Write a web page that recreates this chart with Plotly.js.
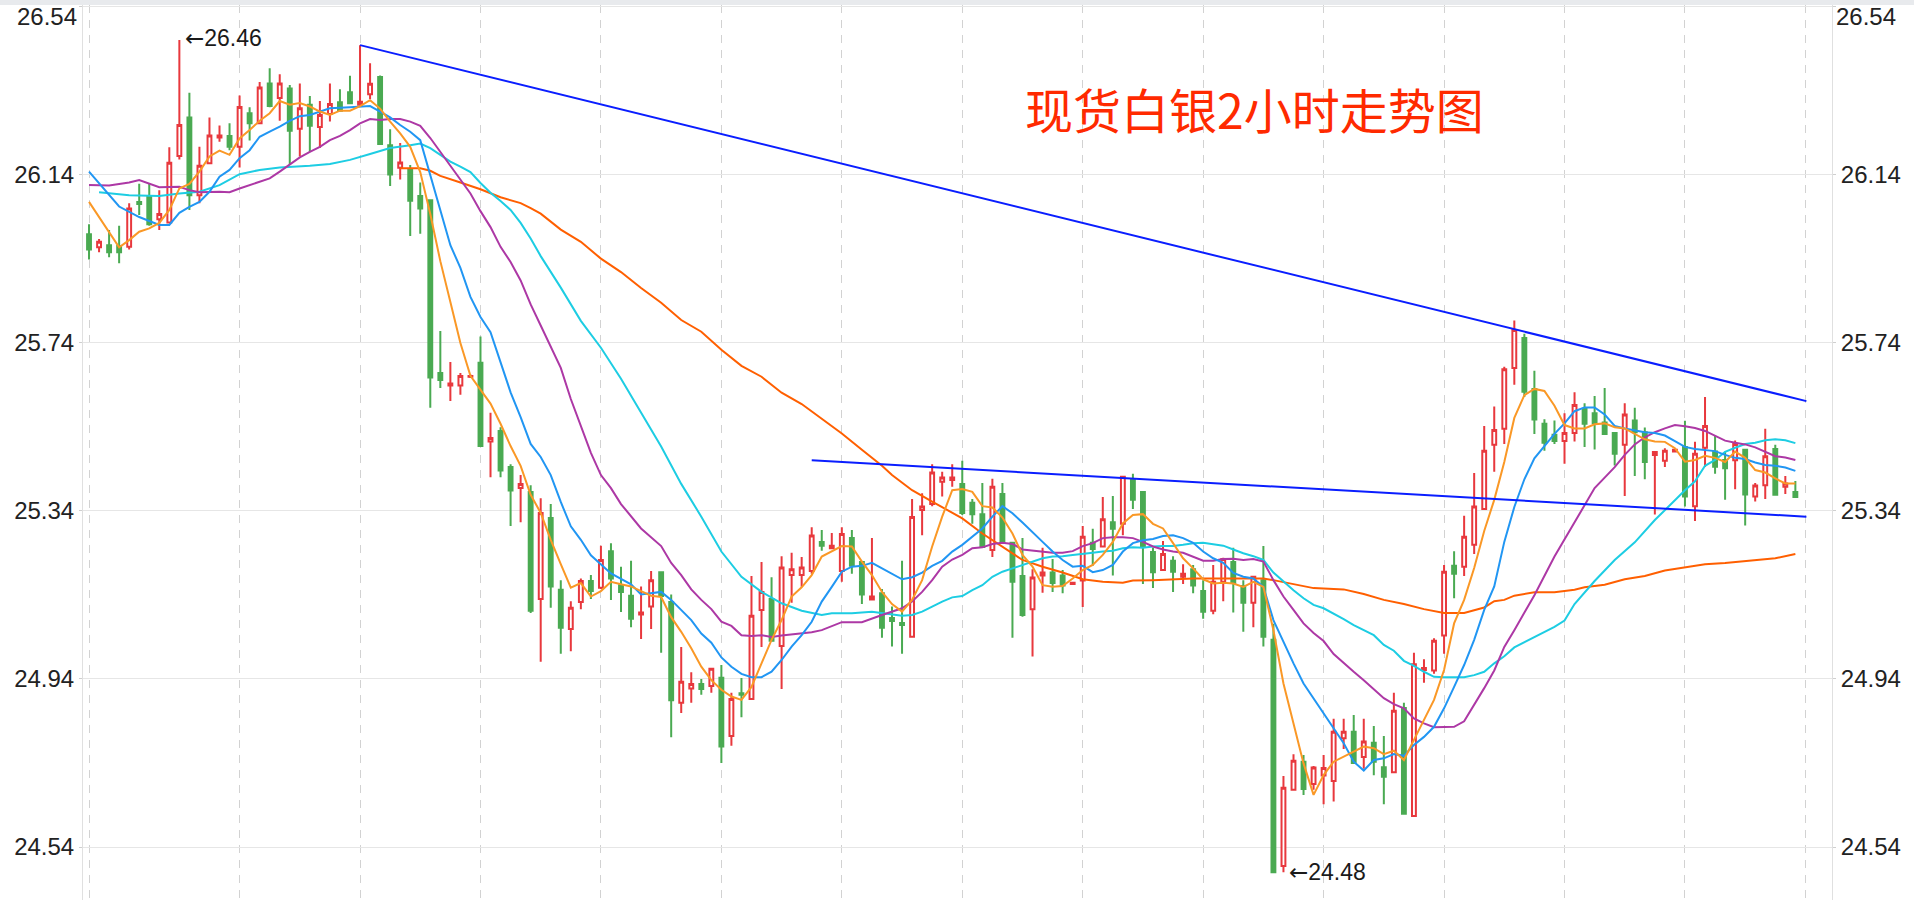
<!DOCTYPE html>
<html>
<head>
<meta charset="utf-8">
<script src="https://cdn.plot.ly/plotly-3.0.1.min.js"></script>
<style>
html,body{margin:0;padding:0;background:#fff;}
#chart{width:1914px;height:900px;}
</style>
</head>
<body>
<div id="chart"></div>
<script>
// ---- candle data (2-hour bars, index 0..170) ----
const openP = [25.998,25.967,25.972,25.970,25.968,26.075,26.087,26.034,26.026,26.184,26.276,26.091,26.167,26.228,26.232,26.206,26.286,26.262,26.357,26.322,26.345,26.249,26.306,26.253,26.284,26.312,26.336,26.306,26.331,26.372,
26.210,26.156,26.151,26.089,26.079,25.668,25.638,25.638,25.659,25.692,25.505,25.530,25.444,25.394,25.385,25.130,25.323,25.152,25.059,25.123,25.173,25.157,25.244,25.163,25.138,25.093,25.112,25.194,25.123,24.883,
24.917,24.928,24.923,24.943,24.804,24.906,24.892,25.104,25.130,25.018,25.187,25.187,25.197,25.266,25.251,25.197,25.275,25.218,25.129,25.144,25.085,25.073,25.040,25.342,25.356,25.409,25.413,25.404,25.359,25.332,
25.247,25.380,25.264,25.185,25.106,25.186,25.193,25.186,25.166,25.174,25.264,25.255,25.313,25.309,25.413,25.385,25.242,25.199,25.221,25.183,25.201,25.149,25.102,25.171,25.218,25.161,25.121,25.175,25.033,24.495,
24.676,24.743,24.690,24.710,24.697,24.799,24.814,24.754,24.788,24.730,24.718,24.871,24.614,24.961,24.960,25.043,25.209,25.207,25.259,25.344,25.497,25.535,25.680,25.751,25.630,25.547,25.521,25.506,25.525,25.583,
25.572,25.550,25.525,25.497,25.555,25.527,25.473,25.459,25.481,25.492,25.351,25.490,25.481,25.461,25.460,25.485,25.374,25.401,25.487,25.397,25.385];
const highP = [26.022,25.987,26.008,26.018,26.072,26.118,26.118,26.103,26.205,26.460,26.335,26.206,26.276,26.257,26.262,26.328,26.300,26.360,26.393,26.379,26.353,26.357,26.327,26.315,26.357,26.343,26.375,26.448,26.405,26.376,
26.248,26.215,26.163,26.121,26.080,25.768,25.694,25.668,25.664,25.755,25.573,25.539,25.451,25.425,25.401,25.370,25.356,25.175,25.125,25.179,25.187,25.257,25.263,25.207,25.221,25.160,25.197,25.196,25.141,25.016,
24.956,24.940,24.966,24.973,24.907,24.942,25.185,25.218,25.182,25.232,25.240,25.230,25.301,25.294,25.287,25.301,25.294,25.220,25.275,25.154,25.112,25.221,25.368,25.382,25.451,25.433,25.451,25.459,25.368,25.406,
25.416,25.406,25.266,25.275,25.201,25.252,25.225,25.199,25.171,25.304,25.297,25.373,25.375,25.423,25.428,25.387,25.252,25.268,25.232,25.213,25.211,25.175,25.211,25.228,25.252,25.175,25.185,25.256,25.071,24.709,
24.761,24.759,24.733,24.759,24.845,24.845,24.854,24.845,24.828,24.804,24.907,24.883,25.002,24.987,25.037,25.211,25.244,25.328,25.430,25.542,25.588,25.683,25.793,25.761,25.673,25.558,25.555,25.572,25.622,25.596,
25.613,25.632,25.527,25.596,25.585,25.538,25.481,25.489,25.487,25.554,25.504,25.611,25.518,25.481,25.507,25.487,25.406,25.535,25.497,25.423,25.411];
const lowP = [25.938,25.955,25.943,25.929,25.962,26.044,26.018,26.008,26.024,26.176,26.056,26.072,26.165,26.218,26.198,26.157,26.221,26.260,26.300,26.268,26.164,26.183,26.194,26.203,26.266,26.290,26.308,26.303,26.320,26.211,
26.113,26.128,25.994,25.999,25.585,25.632,25.601,25.616,25.656,25.492,25.420,25.420,25.304,25.313,25.097,24.981,25.109,25.000,25.006,25.106,25.130,25.154,25.128,25.099,25.063,25.035,25.059,25.002,24.801,24.859,
24.883,24.902,24.907,24.740,24.781,24.849,24.890,25.016,25.029,24.916,25.121,25.159,25.190,25.245,25.250,25.171,25.190,25.118,25.128,25.038,25.017,25.000,25.038,25.282,25.351,25.374,25.397,25.330,25.309,25.252,
25.230,25.264,25.038,25.088,24.993,25.145,25.147,25.144,25.164,25.111,25.209,25.254,25.186,25.282,25.344,25.166,25.156,25.197,25.147,25.166,25.144,25.083,25.094,25.125,25.098,25.052,25.063,25.017,24.480,24.480,
24.674,24.664,24.676,24.642,24.648,24.773,24.738,24.726,24.711,24.642,24.716,24.617,24.612,24.931,24.952,25.000,25.132,25.185,25.237,25.342,25.433,25.499,25.640,25.611,25.523,25.483,25.499,25.452,25.505,25.492,
25.486,25.521,25.448,25.375,25.423,25.415,25.331,25.444,25.479,25.350,25.316,25.444,25.428,25.366,25.391,25.305,25.362,25.368,25.376,25.380,25.372];
const closeP = [25.962,25.980,25.955,25.955,26.059,26.070,26.022,26.046,26.168,26.258,26.091,26.161,26.233,26.233,26.206,26.301,26.262,26.347,26.303,26.357,26.244,26.298,26.256,26.282,26.308,26.292,26.310,26.313,26.356,26.213,
26.140,26.169,26.078,26.059,25.657,25.651,25.643,25.661,25.661,25.494,25.513,25.436,25.388,25.404,25.102,25.335,25.160,25.062,25.109,25.173,25.149,25.223,25.179,25.147,25.083,25.098,25.175,25.137,24.889,24.933,
24.928,24.916,24.964,24.779,24.892,24.902,25.090,25.147,25.031,25.205,25.201,25.205,25.281,25.257,25.257,25.285,25.209,25.141,25.136,25.062,25.078,25.068,25.325,25.350,25.431,25.419,25.419,25.335,25.332,25.254,
25.397,25.266,25.171,25.092,25.181,25.193,25.168,25.162,25.169,25.278,25.249,25.320,25.297,25.421,25.366,25.255,25.194,25.237,25.195,25.190,25.162,25.100,25.171,25.225,25.168,25.121,25.183,25.040,24.480,24.681,
24.745,24.678,24.729,24.728,24.814,24.814,24.740,24.791,24.743,24.707,24.864,24.619,24.975,24.966,25.031,25.195,25.190,25.278,25.350,25.483,25.532,25.677,25.770,25.623,25.557,25.502,25.506,25.525,25.592,25.547,
25.549,25.523,25.476,25.569,25.527,25.456,25.480,25.483,25.485,25.374,25.476,25.542,25.445,25.441,25.499,25.379,25.400,25.470,25.378,25.405,25.373];

// ---- moving averages (bar index, value) ----
const ma5X = [0,3,4,5,6,7,8,9,10,11,12,13,14,15,16,17,18,19,20,21,22,23,24,25,26,27,28,29,30,31,32,33,34,35,36,37,38,39,40,41,42,43,44,45,46,47,48,49,50,51,52,53,54,55,56,57,58,59,60,61,62,63,64,65,66,67,68,69,70,71,72,73,74,75,76,77,78,79,80,81,82,83,84,85,86,87,88,89,90,91,92,93,94,95,96,97,98,99,100,101,102,103,104,105,106,107,108,109,110,111,112,113,114,115,116,117,118,119,120,121,122,123,124,125,126,127,128,129,130,131,132,133,134,135,136,137,138,139,140,141,142,143,144,145,146,147,148,149,150,151,152,153,154,155,156,157,158,159,160,161,162,163,164,165,166,167,168,169,170];
const ma5Y = [26.075,25.967,25.984,26.004,26.012,26.025,26.056,26.107,26.118,26.147,26.183,26.197,26.187,26.226,26.246,26.268,26.286,26.315,26.306,26.310,26.302,26.290,26.282,26.292,26.292,26.303,26.317,26.297,26.266,26.238,26.206,26.146,26.046,25.934,25.837,25.739,25.661,25.629,25.595,25.547,25.494,25.447,25.378,25.335,25.271,25.213,25.157,25.168,25.136,25.149,25.171,25.165,25.160,25.149,25.138,25.135,25.087,25.052,25.013,24.969,24.937,24.914,24.898,24.890,24.921,24.977,25.033,25.080,25.136,25.158,25.187,25.231,25.243,25.256,25.255,25.219,25.187,25.147,25.118,25.100,25.128,25.175,25.255,25.326,25.389,25.392,25.385,25.351,25.348,25.324,25.286,25.235,25.207,25.163,25.159,25.161,25.179,25.199,25.211,25.235,25.266,25.310,25.330,25.332,25.309,25.298,25.263,25.227,25.203,25.177,25.167,25.169,25.167,25.159,25.171,25.159,25.056,24.929,24.834,24.739,24.664,24.711,24.743,24.755,24.767,24.779,24.775,24.761,24.769,24.747,24.795,24.842,24.890,24.961,25.072,25.128,25.204,25.292,25.366,25.456,25.561,25.615,25.630,25.625,25.590,25.544,25.536,25.536,25.546,25.548,25.539,25.536,25.523,25.510,25.505,25.504,25.489,25.457,25.461,25.471,25.466,25.456,25.481,25.466,25.437,25.431,25.417,25.405,25.405];

const ma10X = [0,3,5,7,8,9,10,11,12,13,14,15,16,17,18,19,20,21,22,24,26,28,29,30,31,32,33,34,35,36,37,38,39,40,42,43,44,45,46,47,48,49,50,52,54,55,57,58,60,61,62,63,64,65,66,67,68,69,70,71,72,73,74,75,76,77,78,79,80,81,82,83,84,85,86,87,89,90,91,92,93,94,95,96,97,98,99,100,101,102,103,104,105,106,107,108,109,110,111,112,113,114,115,116,117,118,119,120,121,122,123,124,125,126,127,128,129,130,131,132,133,134,135,136,137,138,139,140,141,142,143,144,145,146,147,148,149,150,151,152,153,154,155,156,157,158,159,160,161,162,163,164,165,166,167,168,169,170];
const ma10Y = [26.147,26.064,26.039,26.020,26.020,26.049,26.063,26.075,26.099,26.135,26.151,26.179,26.198,26.230,26.242,26.254,26.268,26.279,26.282,26.298,26.300,26.303,26.290,26.276,26.258,26.242,26.222,26.139,26.060,25.972,25.918,25.849,25.801,25.765,25.622,25.563,25.499,25.468,25.425,25.361,25.303,25.271,25.234,25.191,25.165,25.141,25.147,25.128,25.080,25.048,25.026,24.991,24.969,24.952,24.944,24.944,24.957,24.985,25.017,25.044,25.076,25.124,25.159,25.195,25.207,25.209,25.216,25.203,25.190,25.177,25.182,25.193,25.209,25.221,25.243,25.259,25.298,25.326,25.351,25.334,25.312,25.288,25.266,25.243,25.223,25.207,25.209,25.194,25.199,25.211,25.243,25.263,25.270,25.273,25.280,25.282,25.275,25.264,25.243,25.227,25.216,25.192,25.183,25.179,25.159,25.080,25.028,24.977,24.929,24.894,24.858,24.822,24.787,24.743,24.722,24.747,24.751,24.761,24.757,24.783,24.802,24.826,24.870,24.921,24.973,25.033,25.104,25.160,25.266,25.349,25.415,25.465,25.494,25.523,25.548,25.577,25.586,25.586,25.569,25.542,25.536,25.532,25.527,25.525,25.519,25.506,25.492,25.487,25.485,25.482,25.473,25.466,25.463,25.455,25.449,25.447,25.443,25.435];

const ma20X = [0,2,4,5,7,9,10,11,13,14,15,17,18,19,20,21,22,23,24,25,26,27,28,29,30,31,32,33,34,35,36,37,38,39,40,41,42,43,44,45,47,48,49,50,51,52,53,55,57,58,59,60,61,62,63,64,65,66,67,68,69,70,72,73,74,75,77,78,79,81,82,83,84,85,86,87,88,89,90,91,92,93,94,95,96,97,98,99,100,101,102,103,104,105,106,107,108,109,110,111,112,113,114,115,116,117,118,119,120,121,122,123,124,125,126,127,128,129,130,131,132,133,134,135,136,137,138,139,140,141,142,144,146,148,150,151,152,153,154,155,156,157,158,159,160,161,162,163,164,165,166,167,168,169,170];
const ma20Y = [26.115,26.114,26.121,26.127,26.110,26.111,26.103,26.098,26.099,26.098,26.107,26.123,26.131,26.147,26.163,26.181,26.194,26.206,26.222,26.232,26.246,26.262,26.272,26.270,26.272,26.272,26.266,26.256,26.227,26.194,26.162,26.131,26.095,26.053,26.015,25.968,25.932,25.888,25.831,25.781,25.680,25.606,25.542,25.478,25.425,25.394,25.356,25.298,25.256,25.216,25.187,25.153,25.128,25.106,25.076,25.066,25.044,25.042,25.044,25.040,25.043,25.046,25.051,25.056,25.066,25.075,25.075,25.084,25.092,25.108,25.124,25.147,25.175,25.207,25.224,25.235,25.251,25.253,25.261,25.264,25.261,25.248,25.245,25.243,25.240,25.240,25.244,25.256,25.263,25.275,25.277,25.277,25.275,25.266,25.255,25.248,25.243,25.240,25.231,25.221,25.221,25.225,25.226,25.223,25.225,25.219,25.175,25.136,25.104,25.072,25.049,25.030,24.999,24.977,24.957,24.937,24.915,24.894,24.880,24.870,24.846,24.834,24.825,24.826,24.826,24.839,24.878,24.918,24.960,25.016,25.056,25.139,25.231,25.314,25.394,25.419,25.444,25.473,25.498,25.515,25.527,25.536,25.544,25.541,25.537,25.530,25.518,25.507,25.502,25.498,25.491,25.481,25.470,25.467,25.461];

const ma30X = [1,4,7,9,11,13,15,17,19,21,22,24,26,28,30,32,33,34,35,36,37,38,39,40,41,42,43,44,45,47,49,51,53,55,57,59,60,61,63,65,67,69,71,73,74,76,78,80,81,82,83,84,85,86,87,88,89,90,91,92,93,94,95,96,97,98,99,100,101,102,103,104,105,106,107,108,109,110,111,112,113,114,115,116,117,118,119,120,121,122,123,124,125,126,127,128,129,130,131,132,133,134,135,137,138,139,140,141,142,144,146,147,148,150,152,154,156,158,159,160,161,162,163,164,165,166,167,168,169,170];
const ma30Y = [26.098,26.091,26.089,26.095,26.099,26.115,26.141,26.151,26.157,26.159,26.161,26.165,26.175,26.189,26.203,26.210,26.214,26.203,26.187,26.171,26.159,26.146,26.120,26.097,26.077,26.056,26.025,25.988,25.946,25.871,25.792,25.728,25.654,25.575,25.493,25.404,25.366,25.326,25.243,25.183,25.147,25.120,25.102,25.092,25.096,25.096,25.100,25.094,25.090,25.092,25.100,25.112,25.124,25.134,25.137,25.151,25.163,25.183,25.195,25.203,25.211,25.219,25.227,25.231,25.232,25.235,25.237,25.240,25.243,25.245,25.251,25.253,25.252,25.255,25.256,25.256,25.259,25.263,25.264,25.261,25.257,25.248,25.239,25.232,25.223,25.193,25.171,25.151,25.132,25.116,25.108,25.096,25.082,25.068,25.056,25.044,25.021,25.007,24.983,24.971,24.957,24.945,24.944,24.944,24.949,24.957,24.977,24.994,25.015,25.039,25.064,25.079,25.118,25.173,25.223,25.265,25.318,25.365,25.389,25.410,25.447,25.461,25.480,25.490,25.499,25.502,25.508,25.510,25.508,25.501];

const ma60X = [31,33,34,35,37,39,41,43,44,45,47,49,51,53,55,57,59,61,63,65,67,69,71,73,75,77,79,80,82,84,85,86,87,89,91,93,95,97,99,101,103,104,106,108,110,114,117,118,120,122,125,127,129,131,133,135,137,139,140,141,142,144,146,148,149,151,153,155,157,159,161,163,165,168,170];
const ma60Y = [26.155,26.155,26.149,26.137,26.121,26.105,26.086,26.072,26.060,26.047,26.009,25.980,25.940,25.908,25.870,25.835,25.794,25.766,25.723,25.685,25.659,25.621,25.594,25.560,25.524,25.485,25.447,25.425,25.389,25.362,25.348,25.334,25.322,25.286,25.255,25.223,25.207,25.193,25.177,25.171,25.169,25.174,25.175,25.177,25.179,25.179,25.179,25.175,25.166,25.156,25.153,25.142,25.128,25.118,25.106,25.097,25.097,25.110,25.125,25.128,25.138,25.146,25.146,25.152,25.158,25.164,25.177,25.185,25.198,25.206,25.213,25.216,25.221,25.227,25.237];

// ---- trend lines (bar index, price) ----
const trendUpperX = [27, 171.1];
const trendUpperY = [26.448, 25.601];
const trendLowerX = [72, 171.1];
const trendLowerY = [25.460, 25.326];

// ---- labels ----
const titleText = '现货白银2小时走势图';
const arrowGlyph = '←';
const highMark = {i: 9, v: 26.464, text: '26.46'};
const lowMark = {i: 119, v: 24.48, text: '24.48'};
const tickVals = [24.54, 24.94, 25.34, 25.74, 26.14, 26.54];
const tickText = ['24.54', '24.94', '25.34', '25.74', '26.14', ''];
const topTickLabel = '26.54';
const dayLines = [0,15,27,39,51,63,75,87,99,111,123,135,147,159,171];

const idx = openP.map((_, k) => k);

const W = 1914, H = 900, ML = 83, MR = 82, MT = 5, MB = 0;
const plotW = W - ML - MR, plotH = H - MT - MB;
const yRange = [24.4139, 26.5435];
const xRange = [-0.6, 173.65];

const tickFont = {family: '"Liberation Sans", Arial, Helvetica, sans-serif', size: 24, color: '#222222'};

function ma(x, y, color) {
  return {type: 'scatter', mode: 'lines', x: x, y: y, line: {color: color, width: 2}, hoverinfo: 'skip', showlegend: false};
}
function markText(t) {
  return '<span style="font-family:\'DejaVu Sans\'">' + arrowGlyph + '</span>' + t;
}

const traces = [
  {
    type: 'candlestick', x: idx, open: openP, high: highP, low: lowP, close: closeP,
    increasing: {line: {color: '#e8383d', width: 2}, fillcolor: '#ffffff'},
    decreasing: {line: {color: '#4aaa52', width: 2}, fillcolor: '#4aaa52'},
    whiskerwidth: 0, hoverinfo: 'skip', showlegend: false
  },
  ma(ma60X, ma60Y, '#ff5f00'),
  ma(ma30X, ma30Y, '#1dcde3'),
  ma(ma20X, ma20Y, '#ad38a5'),
  ma(ma10X, ma10Y, '#2196f3'),
  ma(ma5X, ma5Y, '#fa9826'),
  {type: 'scatter', mode: 'lines', x: trendUpperX, y: trendUpperY, yaxis: 'y2', line: {color: '#0a1eff', width: 2}, hoverinfo: 'skip', showlegend: false},
  {type: 'scatter', mode: 'lines', x: trendLowerX, y: trendLowerY, yaxis: 'y2', line: {color: '#0a1eff', width: 2}, hoverinfo: 'skip', showlegend: false}
];

const axisCommon = {
  range: yRange, autorange: false, fixedrange: true,
  tickvals: tickVals, ticktext: tickText,
  ticks: 'outside', ticklen: 3, tickcolor: '#cfcfcf', tickwidth: 1,
  showline: true, linecolor: '#e0e0e0', linewidth: 1,
  zeroline: false, tickfont: tickFont
};

const markFont = {family: '"Liberation Sans", Arial, sans-serif', size: 23, color: '#1a1a1a'};

const layout = {
  width: W, height: H,
  margin: {l: ML, r: MR, t: MT, b: MB, pad: 0},
  paper_bgcolor: '#ffffff', plot_bgcolor: '#ffffff',
  showlegend: false, hovermode: false,
  boxgap: 0.45,
  xaxis: {
    range: xRange, autorange: false, fixedrange: true,
    tickvals: dayLines, showticklabels: false, ticks: '',
    showgrid: true, gridcolor: '#d2d2d2', gridwidth: 1, griddash: '8px,7px',
    zeroline: false, showline: false,
    rangeslider: {visible: false}
  },
  yaxis: Object.assign({}, axisCommon, {side: 'left', showgrid: true, gridcolor: '#e6e6e6', gridwidth: 1}),
  yaxis2: Object.assign({}, axisCommon, {side: 'right', overlaying: 'y', showgrid: false}),
  shapes: [
    {type: 'rect', xref: 'paper', yref: 'paper', x0: -ML / plotW, x1: 1 + MR / plotW, y0: 1, y1: 1 + MT / plotH,
     fillcolor: '#e8eaed', line: {width: 0}, layer: 'below'}
  ],
  annotations: [
    {xref: 'paper', yref: 'paper', x: 0.5373, y: (H - 108) / plotH, xanchor: 'left', yanchor: 'middle',
     text: titleText, showarrow: false,
     font: {family: '"Noto Sans CJK SC", "Noto Sans", sans-serif', size: 48, color: '#ff2a00'}},
    {x: highMark.i, y: highMark.v, xref: 'x', yref: 'y', xanchor: 'left', yanchor: 'middle', xshift: 4,
     text: markText(highMark.text), showarrow: false, font: markFont},
    {x: lowMark.i, y: lowMark.v, xref: 'x', yref: 'y', xanchor: 'left', yanchor: 'middle', xshift: 4,
     text: markText(lowMark.text), showarrow: false, font: markFont},
    {xref: 'paper', yref: 'paper', x: (79 - ML) / plotW, y: (H - 17) / plotH, xanchor: 'right', yanchor: 'middle',
     text: topTickLabel, showarrow: false, font: tickFont},
    {xref: 'paper', yref: 'paper', x: (1834 - ML) / plotW, y: (H - 17) / plotH, xanchor: 'left', yanchor: 'middle',
     text: topTickLabel, showarrow: false, font: tickFont}
  ]
};

Plotly.newPlot('chart', traces, layout, {staticPlot: true, displayModeBar: false});
</script>
</body>
</html>
